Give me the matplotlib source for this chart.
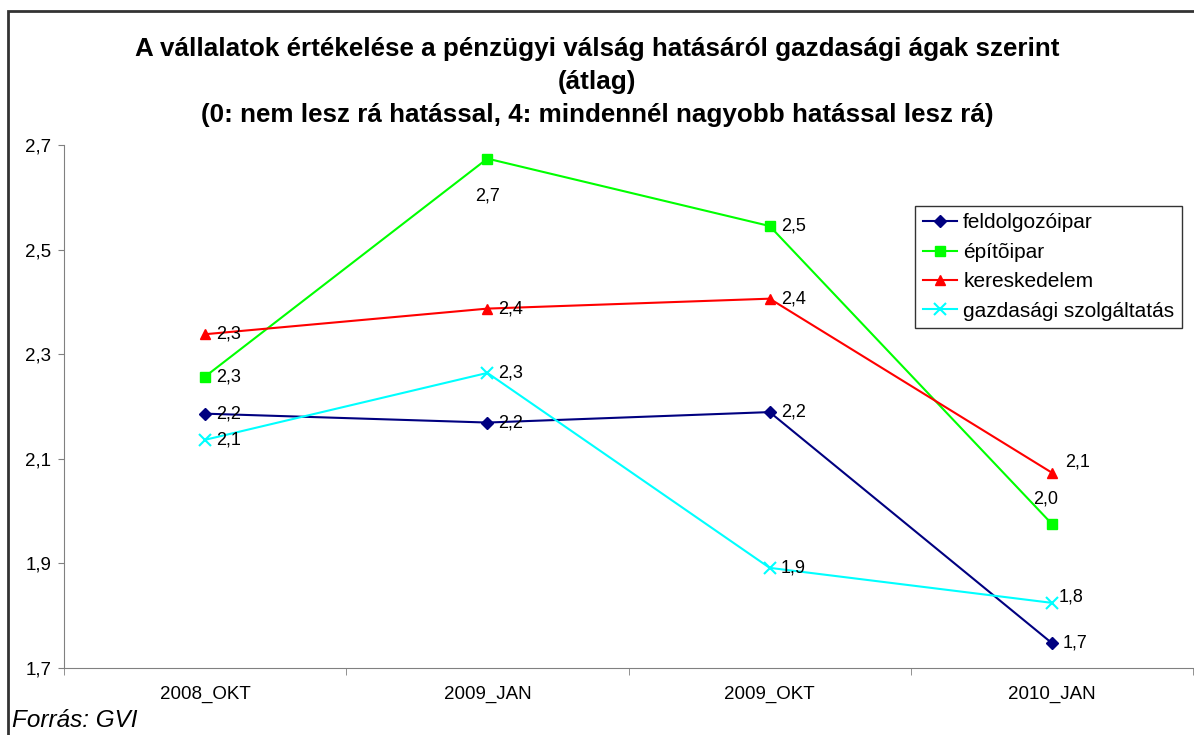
import numpy as np
import matplotlib.pyplot as plt
from matplotlib.patches import Rectangle

plt.rcParams["font.family"] = ["Liberation Sans", "DejaVu Sans"]

# adatok
kategoriak = ["2008_OKT", "2009_JAN", "2009_OKT", "2010_JAN"]
feldolgozoipar = [2.186, 2.169, 2.189, 1.747]
epitoipar = [2.257, 2.674, 2.545, 1.975]
kereskedelem = [2.338, 2.387, 2.406, 2.073]
gazdasagi_szolg = [2.136, 2.264, 1.891, 1.824]

sorok = [
    ("feldolgozóipar", feldolgozoipar, "#000080", "D", 6),
    ("építõipar", epitoipar, "#00FF00", "s", 7),
    ("kereskedelem", kereskedelem, "#FF0000", "^", 7.5),
    ("gazdasági szolgáltatás", gazdasagi_szolg, "#00FFFF", "x", 8),
]

# cimkek eltolasa pixelben (alapertelmezes: jobbra)
eltolas = {
    (1, 1): (0, -37, "center"),
    (1, 3): (-6, 25, "center"),
    (2, 3): (13, 11, "left"),
    (3, 3): (7, 6, "left"),
}

fig = plt.figure(figsize=(11.94, 7.35), dpi=100)
ax = fig.add_axes([0.0536, 0.0916, 0.9456, 0.7111])

x = np.arange(len(kategoriak))
for k, (nev, ertek, szin, jel, meret) in enumerate(sorok):
    ax.plot(x, ertek, color=szin, marker=jel, markersize=meret, linewidth=1.5,
            label=nev, markeredgewidth=1.5 if jel == "x" else 1)
    for i, v in enumerate(ertek):
        dx, dy, ha = eltolas.get((k, i), (11, 0, "left"))
        ax.annotate(f"{v:.1f}".replace(".", ","), (x[i], v), textcoords="offset pixels",
                    xytext=(dx, dy), ha=ha, va="center", fontsize=13)

ax.set_xlim(-0.5, len(kategoriak) - 0.5)
ax.set_ylim(1.7, 2.7)
yt = np.arange(1.7, 2.71, 0.2)
ax.set_yticks(yt)
ax.set_yticklabels([f"{t:.1f}".replace(".", ",") for t in yt], fontsize=13.5)
ax.set_xticks(x)
ax.set_xticklabels(kategoriak, fontsize=13.5)
ax.set_xticks(np.arange(-0.5, len(kategoriak)), minor=True)
ax.tick_params(axis="x", which="major", length=0, pad=13)
ax.tick_params(axis="x", which="minor", length=5, color="gray")
ax.tick_params(axis="y", length=4, color="gray", pad=5)
for s in ["top", "right"]:
    ax.spines[s].set_visible(False)
for s in ["left", "bottom"]:
    ax.spines[s].set_color("gray")

leg = ax.legend(loc="upper left", bbox_to_anchor=(0.754, 0.883), fontsize=15,
                frameon=True, fancybox=False, edgecolor="black", borderpad=0.35,
                borderaxespad=0, labelspacing=0.5, handlelength=1.65,
                handletextpad=0.3)
leg.get_frame().set_linewidth(1)

fig.text(0.5, 0.889, "A vállalatok értékelése a pénzügyi válság hatásáról gazdasági ágak szerint\n(átlag)\n(0: nem lesz rá hatással, 4: mindennél nagyobb hatással lesz rá)",
         ha="center", va="center", fontsize=18.7, fontweight="bold", linespacing=1.47)
fig.text(0.01, 0.02, "Forrás: GVI", fontsize=17.5, style="italic", ha="left", va="center")

fig.patches.append(Rectangle((8 / 1194, -0.1), 1.1, 1.1 - 11 / 735, transform=fig.transFigure,
                             fill=False, edgecolor="#333333", linewidth=2))

fig.savefig("out.png", dpi=100)
